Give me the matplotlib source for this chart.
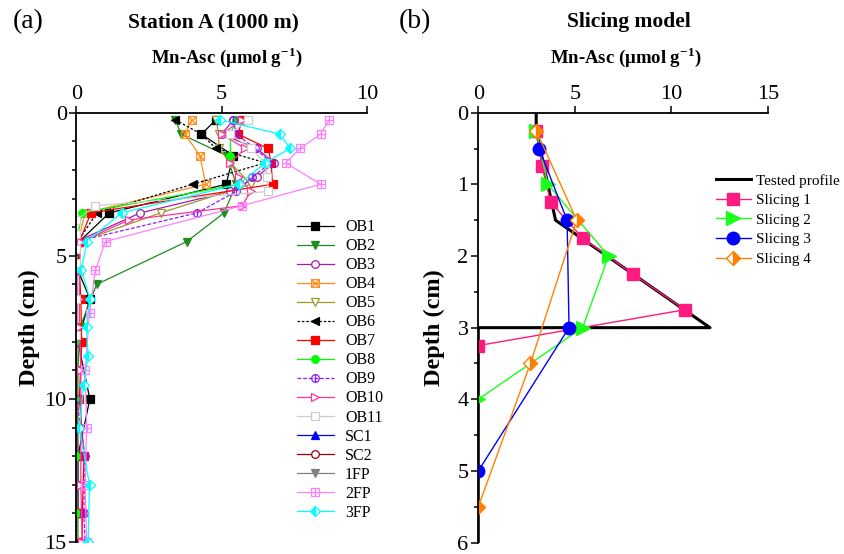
"""Mn-Asc depth profiles: station A cores and slicing model"""

import matplotlib
import matplotlib.pyplot as plt
from matplotlib.path import Path
from matplotlib.ticker import MultipleLocator

matplotlib.use("Agg")

plt.rcParams["font.family"] = ["Liberation Serif", "DejaVu Serif"]
plt.rcParams["mathtext.fontset"] = "custom"
plt.rcParams["mathtext.rm"] = "Liberation Serif:bold"
plt.rcParams["mathtext.bf"] = "Liberation Serif:bold"

# ---- panel (a): station A cores, depth (cm) vs Mn-Asc (umol/g)
ob1_depth = [0.25, 0.75, 1.5, 2.5, 3.5, 4.5, 5.5, 6.5, 8, 10, 12, 14]
ob1_mn = [4.8, 4.3, 5.4, 5.15, 1.13, 0.1, 0.05, 0.46, 0.05, 0.46, 0.05, 0.05]
ob2_depth = [0.25, 0.75, 1.5, 2.5, 3.5, 4.5, 6, 7.5, 9, 11, 13, 15]
ob2_mn = [3.4, 3.6, 5.17, 5.5, 5.08, 3.8, 0.69, 0.12, 0.05, 0.05, 0.05, 0.05]
ob3_depth = [0.25, 0.75, 1.25, 1.75, 2.25, 2.75, 3.5, 4.5, 5.5, 6.5, 8, 10, 12, 14]
ob3_mn = [5.4, 5.0, 6.2, 6.8, 6.2, 5.3, 2.2, 0.0, 0.0, 0.0, 0.0, 0.0, 0.05, 0.05]
ob4_depth = [0.25, 0.75, 1.5, 2.5, 3.5, 4.5, 5.5, 6.5, 8, 10, 12, 14, 15]
ob4_mn = [3.97, 3.73, 4.25, 4.45, 0.3, 0.05, 0, 0, 0, 0, 0, 0, 0]
ob5_depth = [0.25, 0.75, 1.25, 1.75, 2.5, 3.5, 4.5, 5.5, 6.5, 8, 10, 12, 14]
ob5_mn = [4.8, 4.9, 4.9, 5.3, 6.0, 2.9, 0.1, 0.0, 0.0, 0.0, 0.0, 0.0, 0.0]
ob6_depth = [0.25, 0.75, 1.25, 1.75, 2.5, 3.5, 4.5, 5.5, 6.5, 8, 10, 12, 14, 15]
ob6_mn = [3.4, 4.3, 4.8, 6.5, 4.0, 0.7, 0.05, 0, 0, 0, 0, 0, 0, 0]
ob7_depth = [0.25, 0.75, 1.25, 1.75, 2.5, 3.5, 4.5, 5.5, 6.5, 8, 10, 12, 14, 15]
ob7_mn = [5.7, 5.56, 6.6, 6.7, 6.75, 0.5, 0.1, 0.1, 0.15, 0.18, 0.1, 0.26, 0.2, 0.2]
ob8_depth = [0.25, 0.75, 1.5, 2.5, 3.5, 4.5, 5.5, 6.5, 8, 10, 12, 14]
ob8_mn = [5.5, 5.3, 5.3, 5.6, 0.2, 0.0, 0, 0, 0, 0, 0, 0]
ob9_depth = [0.25, 0.75, 1.25, 1.75, 2.25, 2.75, 3.5, 4.5, 5.5, 6.5, 8, 10, 12, 14, 15]
ob9_mn = [5.4, 5.5, 6.15, 6.7, 6.05, 5.5, 4.15, 0.0, 0.0, 0.0, 0.0, 0.0, 0.3, 0.25, 0.3]
ob10_depth = [0.25, 0.75, 1.25, 1.75, 2.25, 2.75, 3.25, 3.75, 4.5, 5.5, 6.5, 7.5, 9, 11, 13, 15]
ob10_mn = [5.7, 5.0, 5.8, 5.3, 5.6, 6.0, 5.7, 1.8, 0.15, 0.1, 0.1, 0.1, 0.15, 0.15, 0.15, 0.2]
ob11_depth = [0.25, 0.75, 1.25, 1.75, 2.25, 2.75, 3.25, 3.75, 4.25, 4.75, 5.25, 6.5, 7.75]
ob11_mn = [5.9, 5.3, 6.0, 6.5, 6.55, 6.6, 0.65, 0.0, 0.0, 0.0, 0.0, 0.0, 0.0]
sc1_depth = [4.5, 5.5, 6.5, 8, 10, 12, 14]
sc1_mn = [0.0, 0.0, 0.0, 0.0, 0.0, 0.0, 0.0]
sc2_depth = [4.5, 5.5, 6.5, 8, 10, 12, 14]
sc2_mn = [0.0, 0.0, 0.0, 0.0, 0.0, 0.0, 0.0]
fp1_depth = [4.5, 5.5, 6.5, 8, 10, 12, 14]
fp1_mn = [0.0, 0.0, 0.0, 0.0, 0.0, 0.0, 0.0]
fp2_depth = [0.25, 0.75, 1.25, 1.75, 2.5, 3.25, 4.5, 5.5, 7, 9, 11, 13, 15]
fp2_mn = [8.7, 8.4, 7.7, 7.2, 8.4, 5.7, 1.0, 0.65, 0.45, 0.3, 0.35, 0.3, 0.35]
fp3_depth = [0.25, 0.75, 1.25, 1.75, 2.5, 3.5, 4.5, 5.5, 6.5, 7.5, 8.5, 9.5, 11, 13, 15]
fp3_mn = [4.95, 7.0, 7.35, 6.5, 5.6, 1.55, 0.35, 0.17, 0.46, 0.35, 0.4, 0.25, 0.1, 0.45, 0.4]

# ---- panel (b): slicing model
tested_depth = [0, 0.25, 1.5, 3.0, 3.0, 6.0]
tested_mn = [3.0, 3.0, 4.0, 12.0, 0.0, 0.0]
slice1_depth = [0.25, 0.75, 1.25, 1.75, 2.25, 2.75, 3.25]
slice1_mn = [3.0, 3.3, 3.75, 5.4, 8.0, 10.7, 0.0]
slice2_depth = [0.25, 1, 2, 3, 4]
slice2_mn = [3.0, 3.6, 6.75, 5.4, 0.0]
slice3_depth = [0.5, 1.5, 3, 5]
slice3_mn = [3.15, 4.6, 4.7, 0.0]
slice4_depth = [0.25, 1.5, 3.5, 5.5]
slice4_mn = [3.0, 5.1, 2.7, 0.0]

# custom open markers
M, L = Path.MOVETO, Path.LINETO
sq_x = Path([(-1, -1), (1, -1), (1, 1), (-1, 1), (-1, -1), (1, 1), (-1, 1), (1, -1)],
            [M, L, L, L, L, L, M, L])
sq_plus = Path([(-1, -1), (1, -1), (1, 1), (-1, 1), (-1, -1), (0, -1), (0, 1), (-1, 0), (1, 0)],
               [M, L, L, L, L, M, L, M, L])
circ_bar = Path.make_compound_path(Path.unit_circle(), Path([(0, -1), (0, 1)], [M, L]))

series_a = [
    ("OB1", ob1_depth, ob1_mn, dict(color="black", marker="s", mfc="black")),
    ("OB2", ob2_depth, ob2_mn, dict(color="#1e8c1e", marker="v", mfc="#1e8c1e")),
    ("OB3", ob3_depth, ob3_mn, dict(color="#a21fa8", marker="o", mfc="white")),
    ("OB4", ob4_depth, ob4_mn, dict(color="#ff8c1a", marker=sq_x, mfc="none")),
    ("OB5", ob5_depth, ob5_mn, dict(color="#99992e", marker="v", mfc="white")),
    ("OB6", ob6_depth, ob6_mn, dict(color="black", marker="<", mfc="black", ls=(0, (2, 1.5)))),
    ("OB7", ob7_depth, ob7_mn, dict(color="#ff0000", marker="s", mfc="#ff0000")),
    ("OB8", ob8_depth, ob8_mn, dict(color="#00ff00", marker="o", mfc="#00ff00")),
    ("OB9", ob9_depth, ob9_mn, dict(color="#8c1aff", marker=circ_bar, mfc="none", ls=(0, (3, 1.5)))),
    ("OB10", ob10_depth, ob10_mn, dict(color="#ff3399", marker=">", mfc="white")),
    ("OB11", ob11_depth, ob11_mn, dict(color="#cccccc", marker="s", mfc="white")),
    ("SC1", sc1_depth, sc1_mn, dict(color="#0000ff", marker="^", mfc="#0000ff", zorder=1)),
    ("SC2", sc2_depth, sc2_mn, dict(color="#990000", marker="o", mfc="white", zorder=1)),
    ("1FP", fp1_depth, fp1_mn, dict(color="#808080", marker="v", mfc="#808080", zorder=1)),
    ("2FP", fp2_depth, fp2_mn, dict(color="#ff80ff", marker=sq_plus, mfc="none")),
    ("3FP", fp3_depth, fp3_mn, dict(color="#00ffff", marker="D", fillstyle="left",
                                    markerfacecoloralt="white")),
]

fig = plt.figure(figsize=(8.45, 5.54), dpi=100)
ax1 = fig.add_axes([0.0905, 0.0215, 0.3438, 0.7751])
ax2 = fig.add_axes([0.566, 0.0205, 0.3428, 0.7761])

for label, depth, mn, style in series_a:
    ax1.plot(mn, depth, label=label, lw=0.9, ms=5.5, mew=0.9, **style)

ax2.plot(tested_mn, tested_depth, color="black", lw=2.2, label="Tested profile")
ax2.plot(slice1_mn, slice1_depth, color="#ff1a80", lw=1, marker="s", ms=8.5, label="Slicing 1")
ax2.plot(slice2_mn, slice2_depth, color="#1aff1a", lw=1, marker=">", ms=9.5, label="Slicing 2")
ax2.plot(slice3_mn, slice3_depth, color="#0000ff", lw=1, marker="o", ms=9, label="Slicing 3")
ax2.plot(slice4_mn, slice4_depth, color="#ff8000", lw=1, marker="D", ms=7.5, mew=1,
         fillstyle="right", markerfacecoloralt="white", label="Slicing 4")

for ax, xmax, ymax in [(ax1, 10, 15), (ax2, 15, 6)]:
    ax.set_xlim(0, xmax)
    ax.set_ylim(ymax, 0)
    ax.xaxis.tick_top()
    ax.spines["right"].set_visible(False)
    ax.spines["bottom"].set_visible(False)
    ax.spines["left"].set_linewidth(1.3)
    ax.spines["top"].set_linewidth(1.3)
    ax.xaxis.set_major_locator(MultipleLocator(5))
    ax.tick_params(which="both", direction="out", width=1.1, labelsize=16)
    ax.tick_params(which="major", length=5)
    ax.tick_params(which="minor", length=3)
    ax.tick_params(axis="x", pad=1)
    ax.tick_params(axis="y", pad=2)
    ax.set_ylabel("Depth (cm)", fontsize=17.5, fontweight="bold")

ax1.yaxis.set_major_locator(MultipleLocator(5))
ax1.yaxis.set_minor_locator(MultipleLocator(1))
ax2.yaxis.set_major_locator(MultipleLocator(1))
ax2.yaxis.set_minor_locator(MultipleLocator(0.5))
ax1.yaxis.set_label_coords(-0.125, 0.5)
ax2.yaxis.set_label_coords(-0.115, 0.5)

ax1.legend(loc="upper left", bbox_to_anchor=(0.759, 0.752), frameon=False, fontsize=11.5,
           handlelength=2.3, handletextpad=0.7, labelspacing=0.19, borderaxespad=0, borderpad=0)
ax2.legend(loc="upper left", bbox_to_anchor=(0.82, 0.858), frameon=False, fontsize=11,
           handlelength=2.3, handletextpad=0.33, labelspacing=0.39, borderaxespad=0, borderpad=0)

xlabel = r"Mn-Asc ($\mathbf{\mu}$mol g$^{\mathbf{-1}}$)"
fig.text(28 / 845, 1 - 22 / 554, "(a)", fontsize=20, ha="center", va="center")
fig.text(415 / 845, 1 - 22 / 554, "(b)", fontsize=20, ha="center", va="center")
fig.text(213 / 845, 1 - 22 / 554, "Station A (1000 m)", fontsize=15.5, fontweight="bold",
         ha="center", va="center")
fig.text(629 / 845, 1 - 22 / 554, "Slicing model", fontsize=15.5, fontweight="bold",
         ha="center", va="center")
fig.text(227 / 845, 1 - 57 / 554, xlabel, fontsize=13.5, fontweight="bold", ha="center", va="center")
fig.text(626 / 845, 1 - 57 / 554, xlabel, fontsize=13.5, fontweight="bold", ha="center", va="center")

fig.savefig("out.png", dpi=100)
